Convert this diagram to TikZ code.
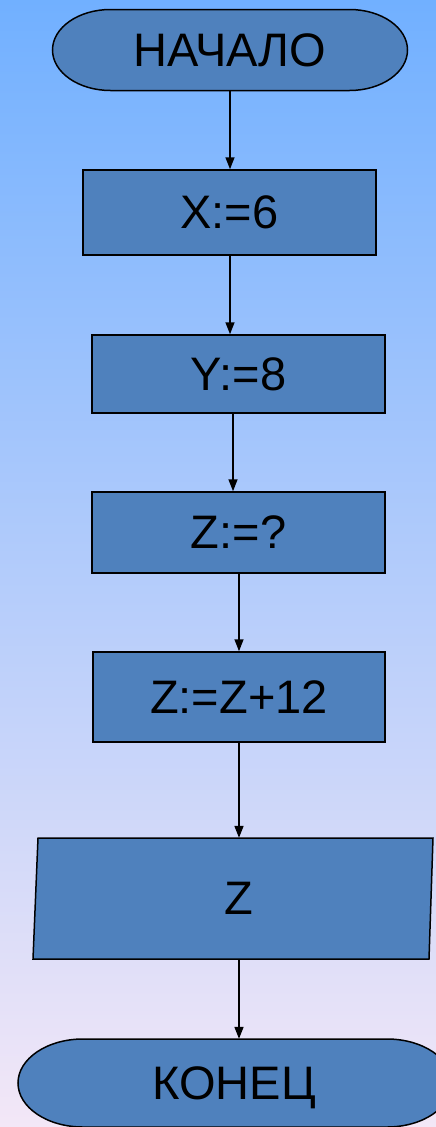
\documentclass[tikz,border=0pt]{standalone}
\usepackage{fontspec}
\setmainfont{Liberation Sans}
\usetikzlibrary{arrows.meta}
\definecolor{boxblue}{RGB}{79,129,189}
\definecolor{bgtop}{RGB}{113,176,255}
\definecolor{bgbot}{RGB}{243,231,247}
\begin{document}
\begin{tikzpicture}[x=1pt,y=1pt,
  lbl/.style={font=\fontsize{47}{56}\selectfont, inner sep=0pt, text depth=0pt, text=black},
  procbox/.style={lbl, draw=black, fill=boxblue, line width=1.5pt},
  shapeline/.style={draw=black, fill=boxblue, line width=1.5pt},
  arr/.style={line width=1.6pt, -{Triangle[length=12pt,width=9pt]}}]
\useasboundingbox (0,0) rectangle (436,-1127);
\clip (0,0) rectangle (436,-1127);
\shade[top color=bgtop, bottom color=bgbot] (0,0) rectangle (436,-1127);
% start terminal
\path[shapeline] (110.5,-9.5) -- (349.5,-9.5)
  arc[start angle=90,end angle=-90,x radius=58,y radius=40.5]
  -- (110.5,-90.5)
  arc[start angle=270,end angle=90,x radius=58,y radius=40.5] -- cycle;
\node[lbl, minimum width=355pt, minimum height=81pt] (start) at (230,-50) {НАЧАЛО};
% process boxes
\node[procbox, minimum width=293pt, minimum height=85pt] (x1) at (229.5,-212.5) {X:=6};
\node[procbox, minimum width=293pt, minimum height=78pt] (y1) at (238.5,-374) {Y:=8};
\node[procbox, minimum width=293pt, minimum height=81pt] (zq) at (238.5,-532.5) {Z:=?};
\node[procbox, minimum width=292pt, minimum height=90pt] (z12) at (239,-697) {Z:=Z+12};
% output parallelogram
\path[shapeline] (38,-838) -- (433,-838) -- (429,-959) -- (33,-959) -- cycle;
\node[lbl, minimum width=390pt, minimum height=121pt] (out) at (239,-898.5) {Z};
% end terminal
\path[shapeline] (83,-1039) -- (387,-1039)
  arc[start angle=90,end angle=-90,x radius=65,y radius=44]
  -- (83,-1127)
  arc[start angle=270,end angle=90,x radius=65,y radius=44] -- cycle;
\node[lbl, minimum width=434pt, minimum height=88pt] (end) at (235,-1083) {};
\node[lbl] (endtxt) at (234,-1083) {КОНЕЦ};
% connectors
\draw[arr] (start.south) -- (start.south |- x1.north);
\draw[arr] ([xshift=0.5pt]x1.south) -- ([xshift=0.5pt]x1.south |- y1.north);
\draw[arr] ([xshift=-5.5pt]y1.south) -- ([xshift=-5.5pt]y1.south |- zq.north);
\draw[arr] ([xshift=0.5pt]zq.south) -- ([xshift=0.5pt]zq.south |- z12.north);
\draw[arr] (z12.south) -- (z12.south |- out.north);
\draw[arr] (out.south) -- ([xshift=4pt]end.north);
\end{tikzpicture}
\end{document}
